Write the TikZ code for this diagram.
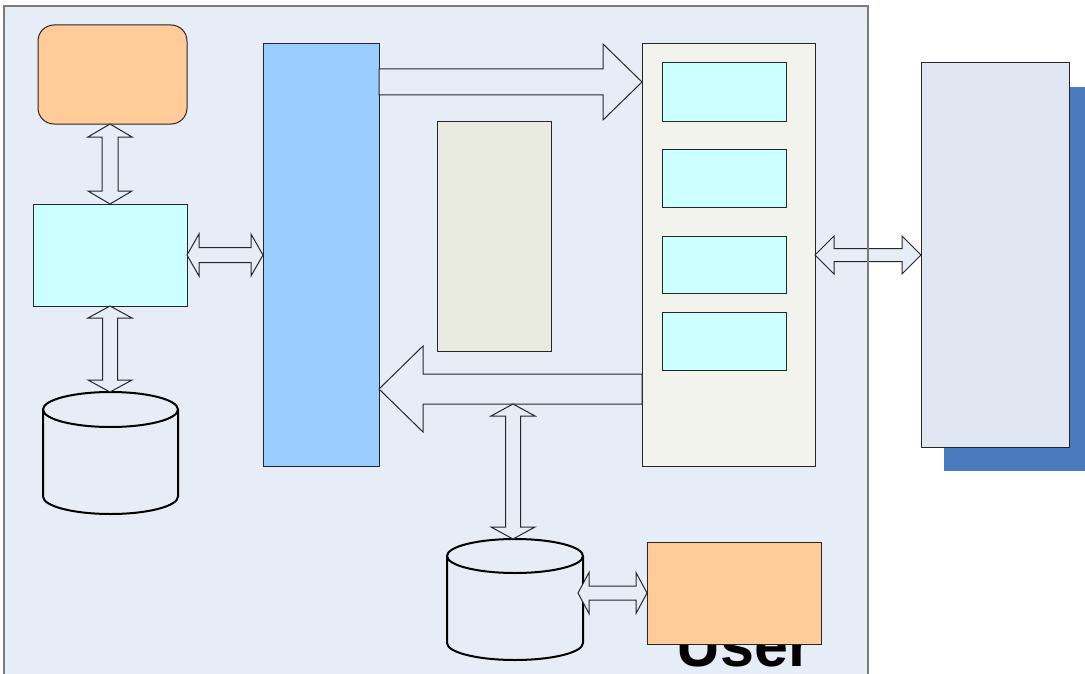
\documentclass[tikz,border=0pt]{standalone}
\usepackage{fontspec}
\setmainfont{Liberation Sans}
\usetikzlibrary{calc}
\definecolor{bgpanel}{HTML}{E7EDF7}
\definecolor{rpanelfill}{HTML}{E0E7F2}
\definecolor{shadowblue}{HTML}{4A7BBF}
\definecolor{barblue}{HTML}{99CCFF}
\definecolor{cyanfill}{HTML}{CCFFFF}
\definecolor{orangefill}{HTML}{FFCC99}
\definecolor{beigefill}{HTML}{E9EBE0}
\definecolor{contfill}{HTML}{F2F3EC}
\definecolor{panelline}{HTML}{7A7A7A}
\newcommand\pxbox[6]{\node[#2, minimum width={(#5-#3)*0.75pt}, minimum height={(#6-#4)*0.75pt}] (#1) at ({(#3+#5)/2},{(#4+#6)/2}) {};}
% horizontal double arrow: left tip, right tip, shaft half, head half, head length
\newcommand\hdarr[5]{\draw[blk] (#1) -- ++(#5,-#4) -- ++(0,{#4-#3}) -- ($(#2)+(-#5,-#3)$) -- ++(0,{#3-#4}) -- (#2) -- ++(-#5,#4) -- ++(0,{#3-#4}) -- ($(#1)+(#5,#3)$) -- ++(0,{#4-#3}) -- cycle;}
% vertical double arrow: top tip, bottom tip, shaft half, head half, head length
\newcommand\vdarr[5]{\draw[blk] (#1) -- ++(#4,#5) -- ++({#3-#4},0) -- ($(#2)+(#3,-#5)$) -- ++({#4-#3},0) -- (#2) -- ++(-#4,-#5) -- ++({#4-#3},0) -- ($(#1)+(-#3,#5)$) -- ++({#3-#4},0) -- cycle;}
% single right arrow: tail, tip
\newcommand\rarr[5]{\draw[blk] ($(#1)+(0,-#3)$) -- ($(#2)+(-#5,-#3)$) -- ++(0,{#3-#4}) -- (#2) -- ++(-#5,#4) -- ++(0,{#3-#4}) -- ($(#1)+(0,#3)$) -- cycle;}
% single left arrow: tip, tail
\newcommand\larr[5]{\draw[blk] (#1) -- ++(#5,-#4) -- ++(0,{#4-#3}) -- ($(#2)+(0,-#3)$) -- ($(#2)+(0,#3)$) -- ($(#1)+(#5,#3)$) -- ++(0,{#4-#3}) -- cycle;}
% cylinder drawn over a named node, ry in px
\newcommand\cyl[2]{\draw[cylst] let \p1=(#1.north west), \p2=(#1.south east), \n1={(\x2-\x1)/2}, \n2={#2*0.75pt} in
  (\x1,\y1-\n2) -- (\x1,\y2+\n2) arc[start angle=180, end angle=360, x radius=\n1, y radius=\n2] -- (\x2,\y1-\n2)
  ({(\x1+\x2)/2},\y1-\n2) ellipse[x radius=\n1, y radius=\n2];}
\begin{document}
\begin{tikzpicture}[x=0.75pt,y=-0.75pt,
  bx/.style={draw=black!85, line width=0.75pt, inner sep=0, outer sep=0},
  ghost/.style={inner sep=0, outer sep=0},
  blk/.style={draw=black!85, fill=bgpanel, line width=0.75pt, line join=miter},
  cylst/.style={draw=black, fill=bgpanel, line width=1.5pt}]
\useasboundingbox (0,0) rectangle (1085,674);
\clip (0,0) rectangle (1085,674);
\fill[white] (0,0) rectangle (1085,674);
% outer panel
\pxbox{panel}{ghost, fill=bgpanel}{4}{6}{868}{700}
% right panel with shadow
\pxbox{shadow}{ghost, fill=shadowblue}{944}{87}{1092}{471}
\pxbox{rpanel}{bx, fill=rpanelfill}{921}{63}{1069}{447}
% User text (behind orange box)
\node[anchor=base west, inner sep=0, font=\bfseries\fontsize{45.7}{52}\selectfont] (user) at (676,666) {User};
% boxes
\pxbox{orange}{bx, fill=orangefill, rounded corners=12pt}{38}{25}{187}{124}
\pxbox{cyanL}{bx, fill=cyanfill}{33}{204}{187}{306}
\pxbox{blue}{bx, fill=barblue}{263}{44}{379}{466}
\pxbox{beige}{bx, fill=beigefill}{437}{121}{551}{351}
\pxbox{cont}{bx, fill=contfill}{642}{44}{815}{466}
\pxbox{c1}{bx, fill=cyanfill}{662}{63}{786}{121}
\pxbox{c2}{bx, fill=cyanfill}{662}{149}{786}{207}
\pxbox{c3}{bx, fill=cyanfill}{662}{236}{786}{293}
\pxbox{c4}{bx, fill=cyanfill}{662}{312}{786}{370}
\pxbox{orangeB}{bx, fill=orangefill}{647}{542}{821}{644}
% cylinders
\pxbox{db1}{ghost}{43}{392}{178}{514}
\pxbox{db2}{ghost}{447}{539}{583}{660}
\cyl{db1}{17.5}
\cyl{db2}{17}
% connectors
\coordinate (t1) at (cyanL.north |- orange.south);
\vdarr{t1}{cyanL.north}{8}{22}{13}
\coordinate (b1) at (cyanL.south |- db1.north);
\vdarr{cyanL.south}{b1}{7.5}{22}{12}
\coordinate (h1) at (blue.west |- cyanL.east);
\hdarr{cyanL.east}{h1}{7.5}{21}{12}
\coordinate (ra) at ($(blue.north east)+(0,38)$);
\coordinate (rb) at (cont.west |- ra);
\rarr{ra}{rb}{13}{38}{39}
\coordinate (la) at ($(cont.south west)+(0,-77)$);
\coordinate (lb) at (blue.east |- la);
\larr{lb}{la}{15}{43}{44}
\coordinate (m1) at ($(db2.north |- la)+(-2,15)$);
\coordinate (m2) at ($(db2.north)+(-2,0)$);
\vdarr{m1}{m2}{7.5}{22}{12}
\coordinate (s1) at ($(orangeB.west -| db2.east)+(-5,0)$);
\hdarr{s1}{orangeB.west}{7}{20.5}{11}
\coordinate (r1) at (cont.east |- rpanel.west);
\hdarr{r1}{rpanel.west}{6.5}{19}{19}
% outer panel border on top
\draw[draw=panelline, line width=1.5pt] (panel.south west) -- (panel.north west) -- (panel.north east) -- (panel.south east);
\end{tikzpicture}
\end{document}
